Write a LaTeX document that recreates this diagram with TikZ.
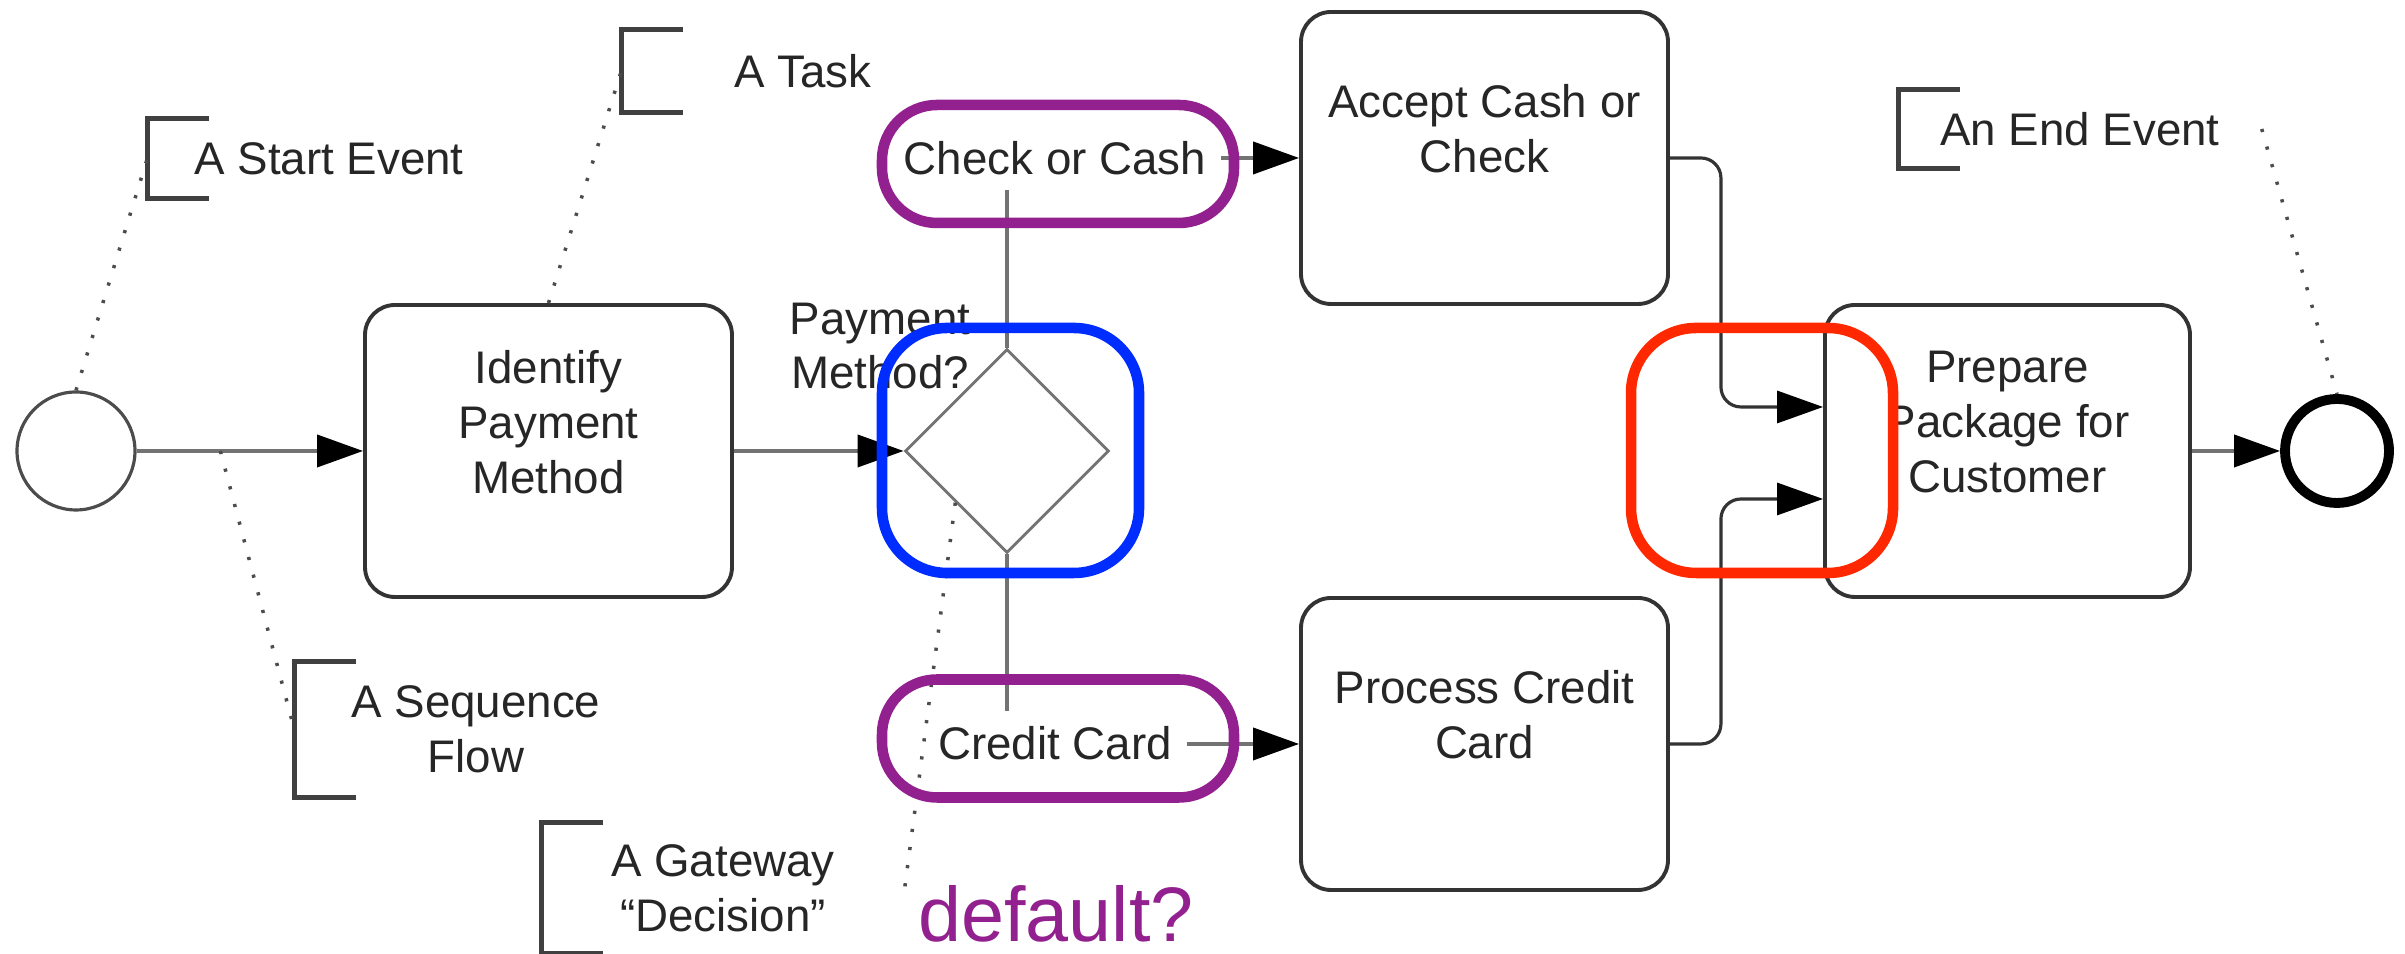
\documentclass[tikz,border=0pt]{standalone}
\usepackage{fontspec}
\setmainfont{Liberation Sans}
\usetikzlibrary{arrows.meta,shapes.geometric}
\definecolor{hlpurple}{RGB}{146,32,142}
\definecolor{hlblue}{RGB}{0,45,255}
\definecolor{hlred}{RGB}{255,40,0}

\begin{document}
\begin{tikzpicture}[
    font=\fontsize{13pt}{15.6pt}\selectfont,
    text=black!85,
    task/.style={draw=black!80, line width=1.1pt, rounded corners=3mm, fill=white,
                 minimum width=3.67cm, minimum height=2.92cm},
    tasktxt/.style={align=center, yshift=2.9mm, text=black!85},
    startS/.style={circle, draw=black!70, line width=0.9pt, fill=white,
                   minimum size=1.18cm, inner sep=0},
    endS/.style={circle, draw=black, line width=2.8pt, fill=white,
                 minimum size=1.04cm, inner sep=0},
    gwS/.style={diamond, draw=black!55, line width=0.8pt, fill=white,
                minimum width=2.04cm, minimum height=2.04cm, inner sep=0},
    flow/.style={-{Triangle[length=4.6mm,width=3.2mm,color=black]}, line width=1.1pt, draw=black!55},
    merge/.style={flow, draw=black!80, line width=0.9pt, rounded corners=2mm},
    flab/.style={fill=white, inner sep=1.5mm},
    annot/.style={minimum width=3.62cm, minimum height=0.8cm, inner sep=0, align=center},
    brk/.style={draw=black!75, line width=1.5pt},
    assoc/.style={draw=black!70, line width=1pt, dash pattern=on 0.9pt off 4.3pt},
    hl/.style={line width=3pt, minimum width=3.52cm, minimum height=1.18cm,
               rounded corners=5.5mm, inner sep=0}
]
    \useasboundingbox (0,0) rectangle (24.05,9.54);

    % events, tasks, gateway
    \node[startS] (start) at (0.76,5.03) {};
    \node[task, label={[tasktxt]center:Identify\\Payment\\Method}] (ipm) at (5.485,5.03) {};
    \node[gwS] (gw) at (10.07,5.03) {};
    \node[align=center] (gwlab) at (8.80,6.08) {Payment\\Method?};
    \node[task, label={[tasktxt]center:Accept Cash or\\Check}] (accept) at (14.845,7.96) {};
    \node[task, label={[tasktxt]center:Process Credit\\Card}] (pcc) at (14.845,2.10) {};
    \node[task, minimum width=3.65cm,
          label={[tasktxt]center:Prepare\\Package for\\Customer}] (prep) at (20.075,5.03) {};
    \node[endS] (finish) at (23.37,5.03) {};

    % sequence flows
    \draw[flow] (start) -- coordinate[pos=0.37] (seqpt) (ipm);
    \draw[flow] (ipm) -- (gw);
    \draw[flow] (gw.north) |- (accept.west);
    \draw[flow] (gw.south) |- (pcc.west);
    \draw[merge] (accept.east) -- ++(0.51,0) |- ([yshift=4.4mm]prep.west);
    \draw[merge] (pcc.east) -- ++(0.51,0) |- ([yshift=-4.8mm]prep.west);
    \draw[flow] (prep) -- (finish);

    \node[flab] (lcash) at (10.55,7.96) {Check or Cash};
    \node[flab] (lcredit) at (10.55,2.11) {Credit Card};

    % text annotations
    \node[annot, minimum height=0.79cm] (astart) at (3.29,7.955) {A Start Event};
    \node[annot, minimum height=0.82cm] (atask) at (8.03,8.83) {A Task};
    \node[annot, minimum height=1.35cm] (aflow) at (4.76,2.245) {A Sequence\\Flow};
    \node[annot, minimum height=1.30cm] (agate) at (7.23,0.66) {A Gateway\\“Decision”};
    \node[annot, minimum height=0.78cm] (aend) at (20.80,8.25) {An End Event};

    \foreach \a in {astart,atask,aflow,agate,aend}
        \draw[brk] ([xshift=6.2mm]\a.north west) -- (\a.north west)
            -- (\a.south west) -- ++(6.2mm,0);

    \draw[assoc] (start.north) -- (astart.west);
    \draw[assoc] (ipm.north) -- (atask.west);
    \draw[assoc] (seqpt) -- (aflow.west);
    \draw[assoc] (gw.south west) -- (agate.east);
    \draw[assoc] (aend.east) -- (finish.north);

    % highlights
    \node[hl, draw=hlpurple] (hlcash) at (10.58,7.90) {};
    \node[hl, draw=hlpurple] (hlcredit) at (10.58,2.155) {};
    \node[hl, draw=hlblue, minimum width=2.57cm, minimum height=2.45cm,
          rounded corners=6.5mm] (hlgw) at (10.105,5.035) {};
    \node[hl, draw=hlred, minimum width=2.62cm, minimum height=2.45cm,
          rounded corners=6.5mm] (hlmerge) at (17.62,5.035) {};
    \node[text=hlpurple, font=\fontsize{22pt}{26pt}\selectfont] (dflt) at (10.56,0.40) {default?};
\end{tikzpicture}
\end{document}
